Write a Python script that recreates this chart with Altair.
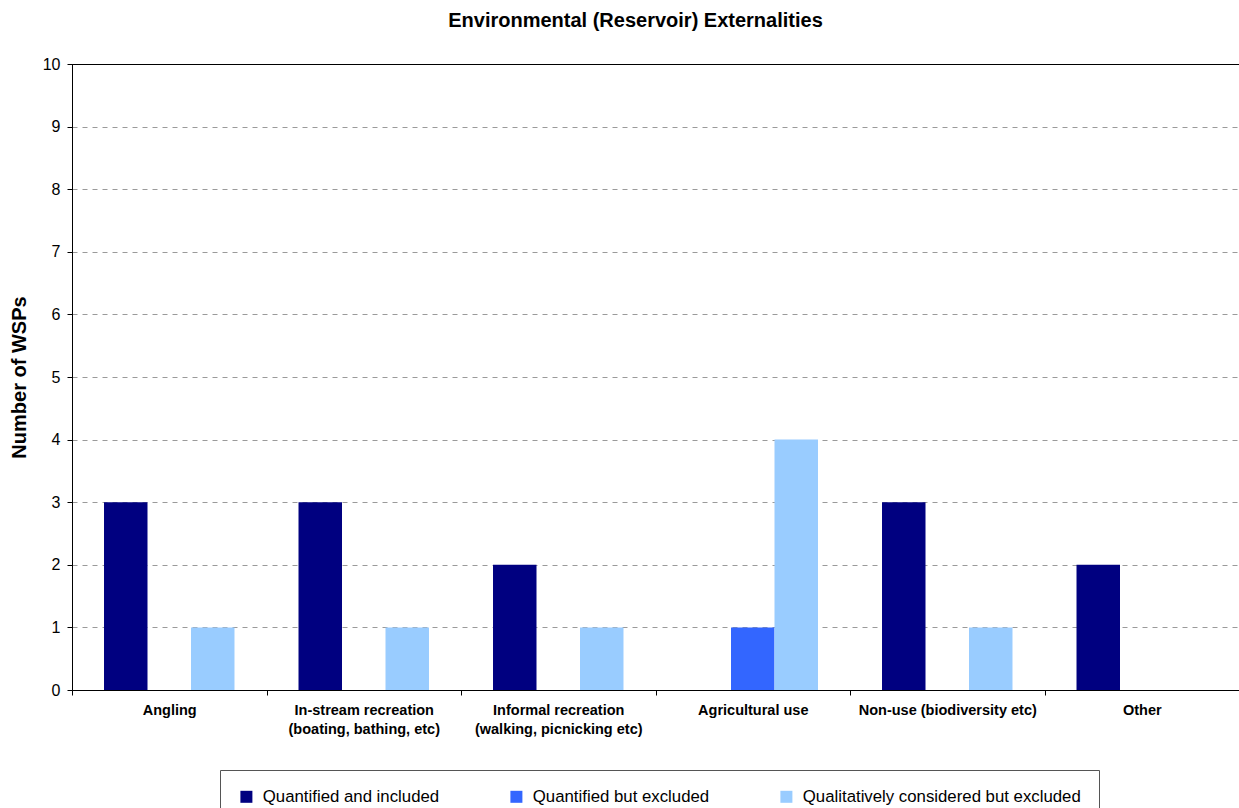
import altair as alt
import pandas as pd

# Externality categories (line breaks mark two-line axis labels)
categories = [
    "Angling",
    "In-stream recreation\n(boating, bathing, etc)",
    "Informal recreation\n(walking, picnicking etc)",
    "Agricultural use",
    "Non-use (biodiversity etc)",
    "Other",
]
series_names = [
    "Quantified and included",
    "Quantified but excluded",
    "Qualitatively considered but excluded",
]
quantified_included = [3, 3, 2, 0, 3, 2]
quantified_excluded = [0, 0, 0, 1, 0, 0]
qualitative_excluded = [1, 1, 1, 4, 1, 0]
series_colors = ["#000080", "#3366FF", "#99CCFF"]
y_ticks = list(range(0, 11))

rows = []
for name, values in zip(series_names,
                        [quantified_included, quantified_excluded, qualitative_excluded]):
    for cat, v in zip(categories, values):
        rows.append({"category": cat, "series": name, "count": v})
df = pd.DataFrame(rows)

FONT = "Liberation Sans"

bars = alt.Chart(df).mark_bar(stroke=None).encode(
    x=alt.X(
        "category:N",
        sort=categories,
        scale=alt.Scale(paddingInner=0, paddingOuter=0),
        axis=alt.Axis(
            title=None,
            labelAngle=0,
            labelExpr="split(datum.label, '\\n')",
            labelFont=FONT,
            labelFontSize=14.5,
            labelFontWeight="bold",
            labelColor="black",
            labelLineHeight=19,
            labelPadding=8,
            labelLimit=300,
            tickBand="extent",
            tickSize=5,
            tickColor="black",
            domainColor="black",
            grid=False,
        ),
    ),
    xOffset=alt.XOffset(
        "series:N",
        sort=series_names,
        scale=alt.Scale(paddingOuter=0.736, paddingInner=0),
    ),
    y=alt.Y(
        "count:Q",
        scale=alt.Scale(domain=[0, 10], nice=False),
        axis=alt.Axis(
            title="Number of WSPs",
            values=y_ticks,
            format="d",
            labelFont=FONT,
            labelFontSize=16,
            labelColor="black",
            labelPadding=7,
            tickSize=5,
            tickColor="black",
            domainColor="black",
            # the top line is the solid plot frame, the rest are dashed guides
            gridColor={"condition": {"test": "datum.value == 10", "value": "black"},
                       "value": "#9a9a9a"},
            gridDash={"condition": {"test": "datum.value == 10", "value": []},
                      "value": [5, 5]},
            titleFont=FONT,
            titleFontSize=20,
            titleFontWeight="bold",
            titleColor="black",
            titleAngle=270,
            titleAlign="center",
            titleBaseline="middle",
            titleX=-53,
            titleY=313,
        ),
    ),
    color=alt.Color(
        "series:N",
        sort=series_names,
        scale=alt.Scale(domain=series_names, range=series_colors),
        legend=alt.Legend(
            title=None,
            orient="none",
            direction="horizontal",
            columns=3,
            legendX=148,
            legendY=706,
            padding=18,
            columnPadding=68,
            strokeColor="#555555",
            symbolType="square",
            symbolSize=144,
            symbolStrokeWidth=0,
            labelOffset=8,
            labelFont=FONT,
            labelFontSize=16.8,
            labelColor="black",
            labelLimit=400,
        ),
    ),
)

chart = bars.properties(
    width=1167,
    height=626,
    autosize=alt.AutoSizeParams(type="none"),
    padding={"left": 72, "top": 64, "right": 0, "bottom": 118},
    title=alt.TitleParams(
        "Environmental (Reservoir) Externalities",
        font=FONT,
        fontSize=20,
        fontWeight="bold",
        color="black",
        anchor="middle",
        frame="group",
        dx=-20,
        baseline="alphabetic",
        offset=9,
    ),
).configure_view(stroke="black", strokeWidth=1)

chart.save("out.html", embed_options={"renderer": "svg", "actions": False})
